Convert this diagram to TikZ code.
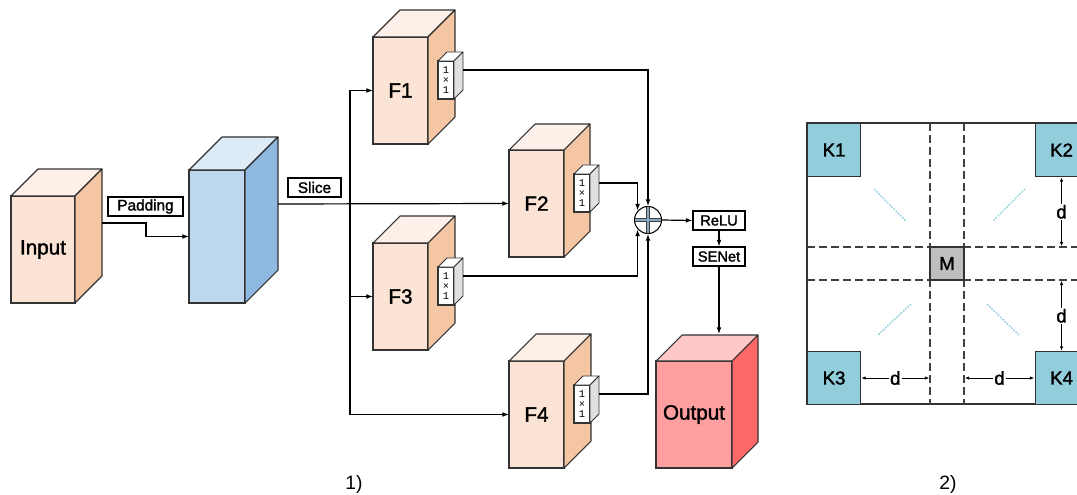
\documentclass[tikz,border=0pt]{standalone}
\usepackage{fontspec}
\setmainfont{Liberation Sans}
\newfontfamily\heavy{Liberation Sans}[FakeBold=1.7]
\newfontfamily\monof{Liberation Mono}
\usetikzlibrary{calc,arrows.meta}

\definecolor{edge}{HTML}{333333}
\definecolor{peachF}{HTML}{FBE4D6}
\definecolor{peachS}{HTML}{F5C6A4}
\definecolor{peachT}{HTML}{FDF0E8}
\definecolor{blueF}{HTML}{BDD7EE}
\definecolor{blueS}{HTML}{8FB9E1}
\definecolor{blueT}{HTML}{DDEBF7}
\definecolor{redF}{HTML}{FF9F9F}
\definecolor{redS}{HTML}{FF6868}
\definecolor{redT}{HTML}{FFC8C8}
\definecolor{greyS}{HTML}{E0E0E0}
\definecolor{kcol}{HTML}{92CDDC}
\definecolor{mcol}{HTML}{BFBFBF}
\definecolor{dotblue}{HTML}{8CC8DC}
\definecolor{dashcol}{HTML}{404040}

\tikzset{
  face/.style={draw=edge, line width=0.8pt, inner sep=0pt, outer sep=0pt},
  facedraw/.style={draw=edge, line width=0.8pt, line join=round},
  bigtxt/.style={font=\heavy\fontsize{15.5}{18}\selectfont, inner sep=0pt},
  tag/.style={draw=black, line width=0.8pt, fill=white, inner sep=0pt,
    font=\heavy\fontsize{11.5}{13}\selectfont, minimum height=19*0.75pt},
  arr/.style={draw=black, line width=0.9pt, -{Latex[length=5pt,width=3.6pt]}},
  wire/.style={draw=black, line width=0.9pt},
  kbox/.style={draw=edge, line width=0.8pt, fill=kcol, inner sep=0pt,
    minimum width=53*0.75pt, minimum height=53*0.75pt, anchor=north west,
    font=\heavy\fontsize{14}{16}\selectfont},
  dline/.style={draw=dashcol, line width=0.8pt, dash pattern=on 6pt off 3pt},
  diag/.style={draw=dotblue, line width=1pt, dash pattern=on 1.3pt off 1pt},
  darr/.style={draw=black, line width=0.7pt, {Latex[length=3.5pt,width=2.6pt]}-{Latex[length=3.5pt,width=2.6pt]}},
  dlab/.style={fill=white, inner sep=1pt, font=\heavy\fontsize{14}{16}\selectfont},
  captxt/.style={font=\fontsize{14.5}{16}\selectfont, inner sep=0pt}
}

% cuboid: name, left, top, width, height, depth, front, side and top colours
\newcommand\cuboid[9]{%
  \node[face, fill=#7, minimum width=#4*0.75pt, minimum height=#5*0.75pt,
        anchor=north west] (#1) at (#2,#3) {};
  \filldraw[facedraw, fill=#9] (#1.north west) -- ++(#6,-#6) -- ++(#4,0)
     -- (#1.north east) -- cycle;
  \filldraw[facedraw, fill=#8] (#1.north east) -- ++(#6,-#6) -- ++(0,#5)
     -- (#1.south east) -- cycle;
}
% small 1x1 kernel block
\newcommand\kernel[3]{%
  \node[face, fill=white, minimum width=16*0.75pt, minimum height=38*0.75pt,
        anchor=north west, font=\monof\fontsize{7.8}{8.2}\selectfont,
        align=center] (#1) at (#2,#3) {1\\[-0.8pt]×\\[-0.8pt]1};
  \filldraw[facedraw, line width=0.6pt, fill=white] (#1.north west) -- ++(9,-9) -- ++(16,0)
     -- (#1.north east) -- cycle;
  \filldraw[facedraw, line width=0.6pt, fill=greyS] (#1.north east) -- ++(9,-9) -- ++(0,38)
     -- (#1.south east) -- cycle;
}

\begin{document}
\begin{tikzpicture}[x=0.75pt, y=-0.75pt]
\useasboundingbox (0,0) rectangle (1077,495);

% ---------- part 1: network ----------
\cuboid{inp}{11}{196}{64}{107}{27}{peachF}{peachS}{peachT}
\node[bigtxt] (inpt) at (inp.center) {Input};

\cuboid{blue}{189}{170}{56}{133}{33}{blueF}{blueS}{blueT}

\cuboid{f1}{373}{37}{55}{107}{27}{peachF}{peachS}{peachT}
\node[bigtxt] (f1t) at (f1.center) {F1};
\cuboid{f2}{509}{150}{55}{107}{26}{peachF}{peachS}{peachT}
\node[bigtxt] (f2t) at (f2.center) {F2};
\cuboid{f3}{373}{243}{55}{107}{27}{peachF}{peachS}{peachT}
\node[bigtxt] (f3t) at (f3.center) {F3};
\cuboid{f4}{509}{361}{55}{107}{27}{peachF}{peachS}{peachT}
\node[bigtxt] (f4t) at (f4.center) {F4};

\kernel{k1}{438}{61}
\kernel{k2}{574}{174}
\kernel{k3}{438}{267}
\kernel{k4}{574}{385}

\cuboid{out}{656}{361}{76}{107}{26}{redF}{redS}{redT}
\node[bigtxt] (outt) at (out.center) {Output};

% labels
\node[tag, minimum width=75*0.75pt] (pad) at (145.5,206.5) {Padding};
\node[tag, minimum width=53*0.75pt] (slice) at (314.5,187.5) {Slice};

% input -> blue
\coordinate (inR) at ($(inp.east)+(27,-26.5)$);
\draw[arr] (inR) -| ($(blue.west)+(-43,0)$) -- (blue.west);

% blue -> slices
\coordinate (blueR) at (278,204);
\coordinate (bus) at (350,204);
\draw[arr] (blueR) -- (f2.west);
\draw[wire] (f1.west -| bus) -- (f4.west -| bus);
\draw[arr] (f1.west -| bus) -- (f1.west);
\draw[arr] (f3.west -| bus) -- (f3.west);
\draw[arr] (f4.west -| bus) -- (f4.west);

% summation
\node[circle, draw=black, line width=0.8pt, fill=white, minimum size=27*0.75pt,
      inner sep=0pt] (sum) at (648,220) {};
\draw[line width=3pt, draw=dashcol] ($(sum.west)+(1,0)$) -- ($(sum.east)+(-1,0)$)
  ($(sum.north)+(0,1)$) -- ($(sum.south)+(0,-1)$);
\draw[line width=1.4pt, draw=blueS!70!gray] ($(sum.west)+(1.5,0)$) -- ($(sum.east)+(-1.5,0)$)
  ($(sum.north)+(0,1.5)$) -- ($(sum.south)+(0,-1.5)$);

\coordinate (k1o) at ($(k1.east)+(9,-10)$);
\coordinate (k2o) at ($(k2.east)+(9,-10)$);
\coordinate (k3o) at ($(k3.east)+(9,-10)$);
\coordinate (k4o) at ($(k4.east)+(9,-10)$);
\draw[arr] (k1o) -| (sum.north);
\draw[arr] (k2o) -| (sum.138);
\draw[arr] (k3o) -| (sum.222);
\draw[arr] (k4o) -| (sum.south);

\node[tag, minimum width=52*0.75pt, font=\heavy\fontsize{11}{13}\selectfont] (relu) at (719,220.5) {ReLU};
\node[tag, minimum width=52*0.75pt, font=\heavy\fontsize{11}{13}\selectfont] (senet) at (719,256.5) {SENet};
\draw[arr] (sum.east) -- (relu.west);
\draw[arr] (relu.south) -- (senet.north);
\coordinate (outtop) at ($(out.north)+(0,-27)$);
\draw[arr] (senet.south) -- (senet.south |- outtop);

\node[captxt] (c1) at (354,484) {1)};
\node[captxt] (c2) at (948,484) {2)};

% ---------- part 2: layout ----------
\begin{scope}
\clip (0,0) rectangle (1077,495);
\draw[draw=edge, line width=0.8pt] (807,123) rectangle (1110,404);
\draw[dline] (930,123) -- (930,404);
\draw[dline] (964,123) -- (964,404);
\draw[dline] (807,247) -- (1110,247);
\draw[dline] (807,280) -- (1110,280);

\draw[diag] (874,189) -- (906,221);
\draw[diag] (1025,189) -- (993,221);
\draw[diag] (911,304) -- (878,335);
\draw[diag] (987,304) -- (1019,335);

\node[kbox] (K1) at (807,123) {K1};
\node[kbox] (K2) at (1034.5,123) {K2};
\node[kbox] (K3) at (807,351) {K3};
\node[kbox] (K4) at (1034.5,351) {K4};
\node[draw=edge, line width=0.8pt, fill=mcol, inner sep=0pt,
      minimum width=34*0.75pt, minimum height=33*0.75pt,
      font=\heavy\fontsize{14}{16}\selectfont] (M) at (947,263.5) {M};

\draw[darr] (K2.south) -- (K2.south |- M.north) node[dlab, midway] {d};
\draw[darr] (K4.north |- M.south) -- (K4.north) node[dlab, midway] {d};
\draw[darr] (K3.east) -- (K3.east -| M.west) node[dlab, midway] {d};
\draw[darr] (K4.west -| M.east) -- (K4.west) node[dlab, midway] {d};
\end{scope}
\end{tikzpicture}
\end{document}
